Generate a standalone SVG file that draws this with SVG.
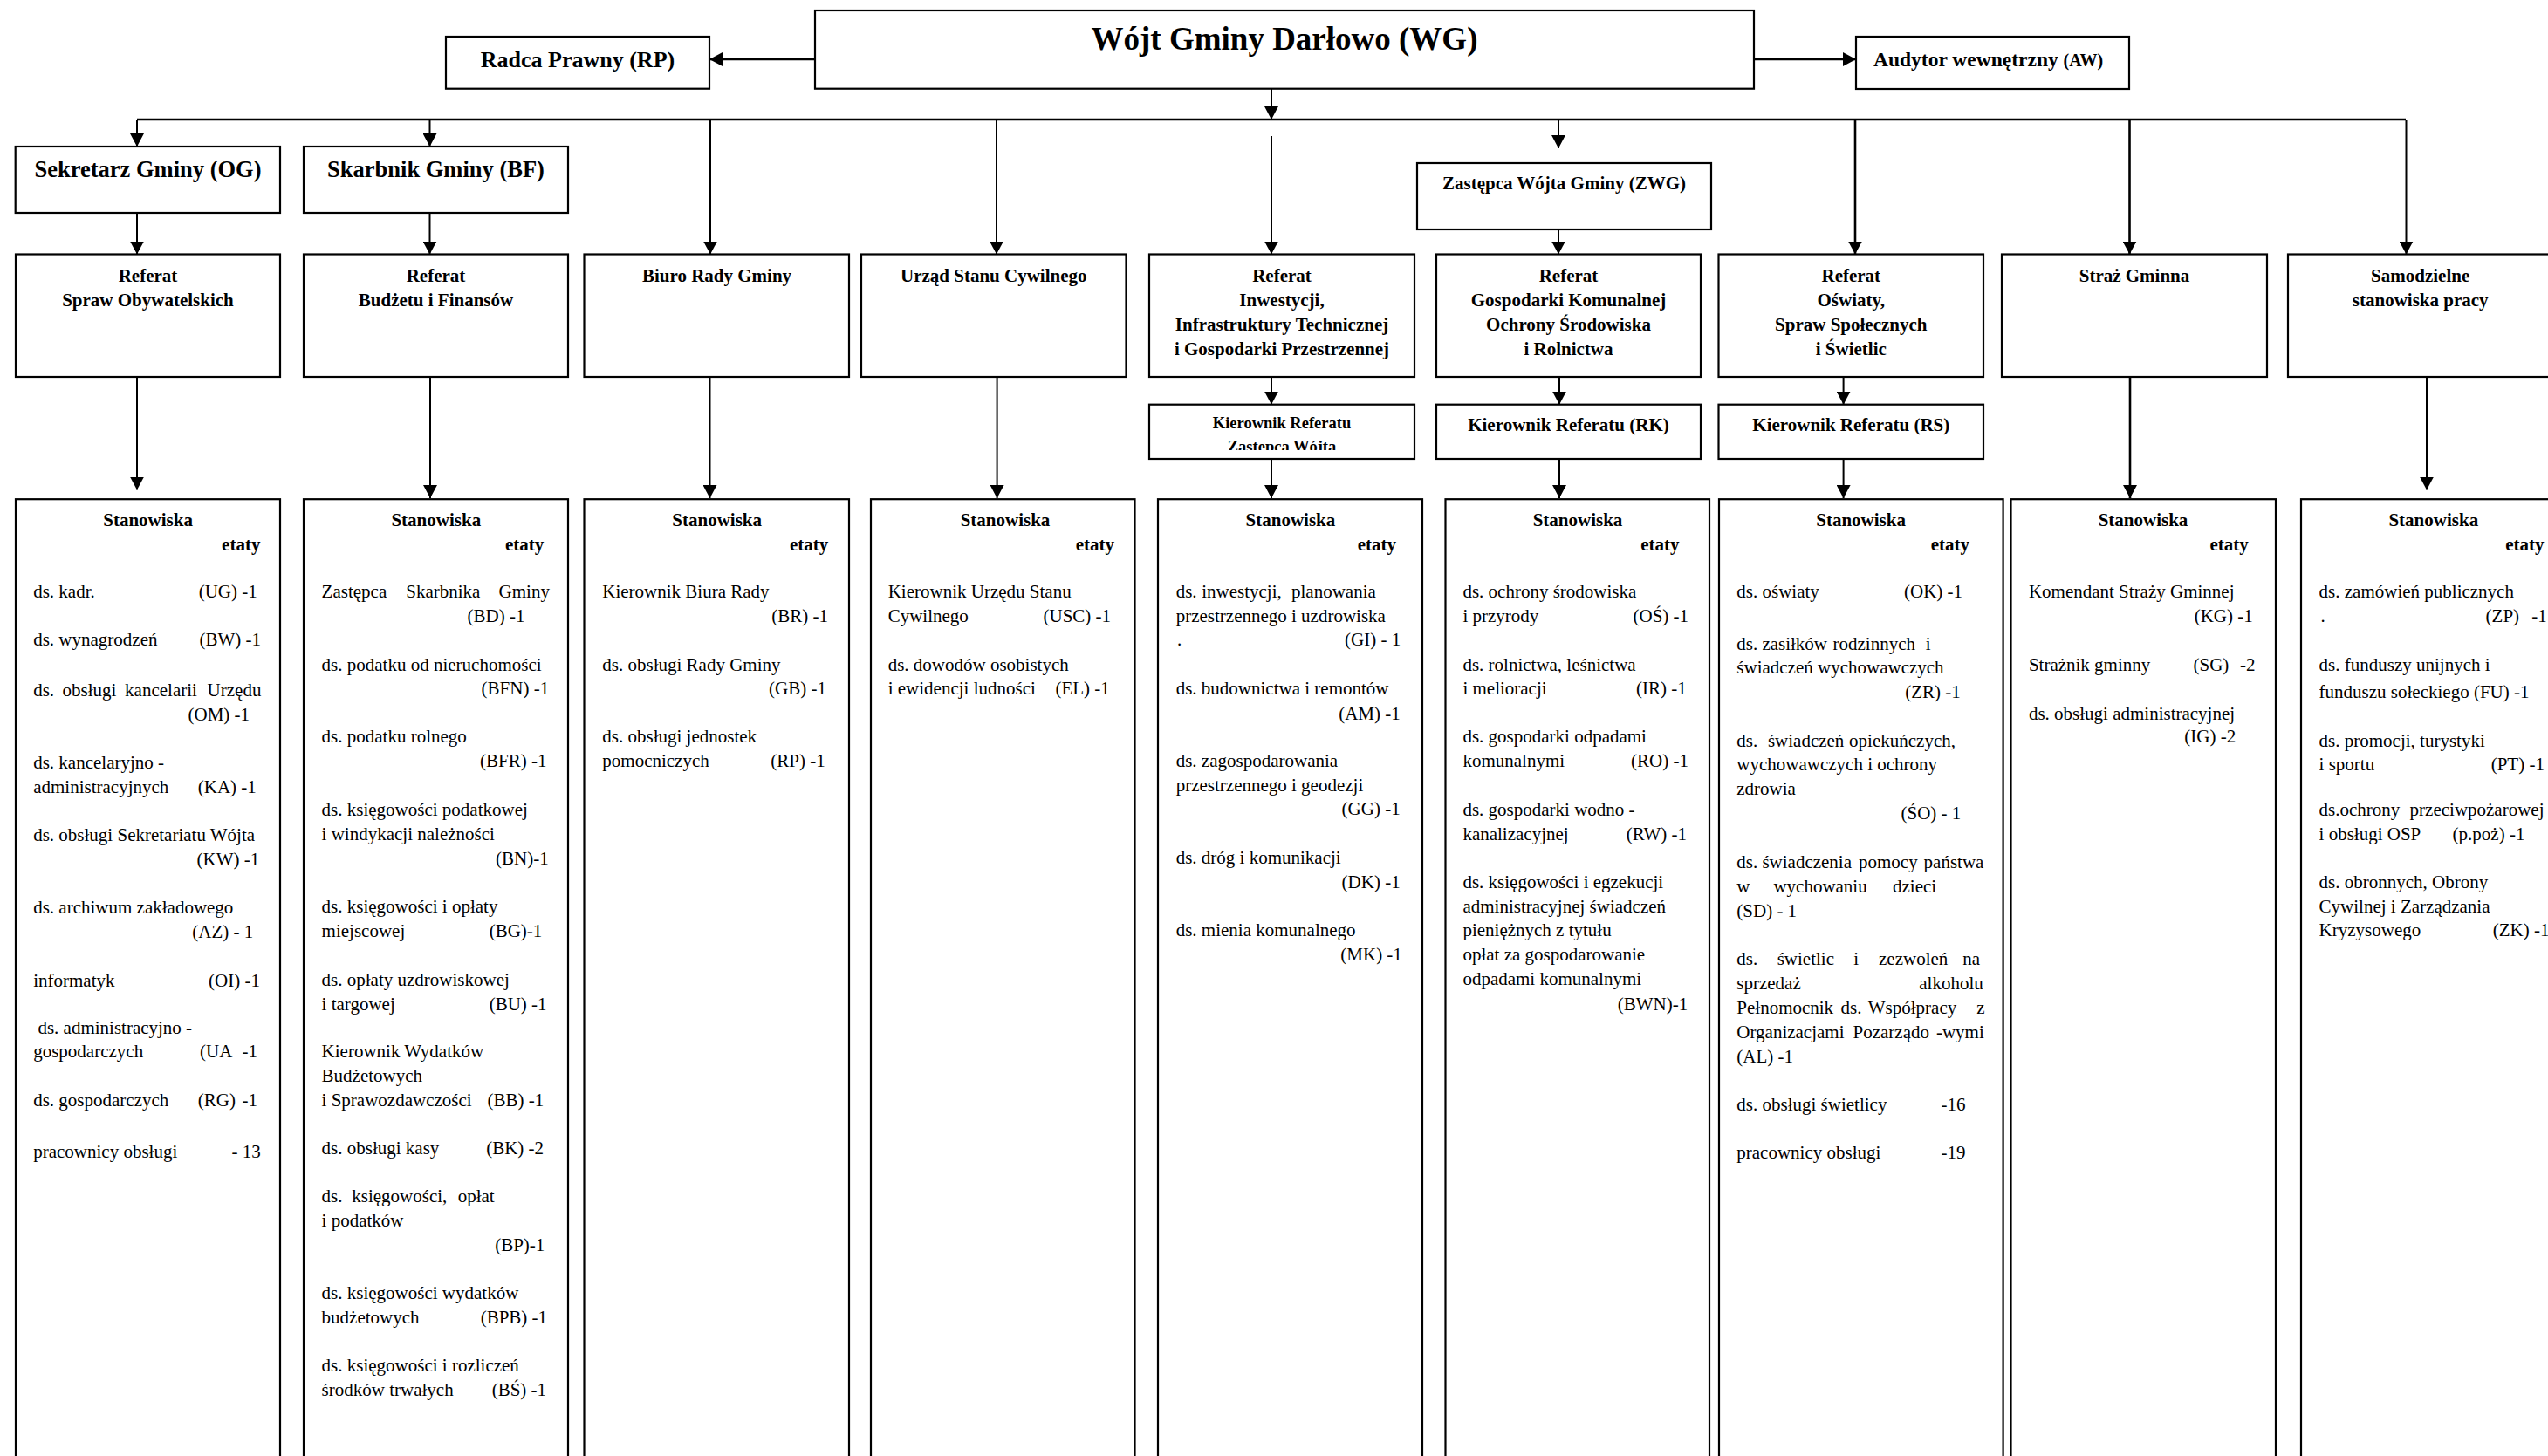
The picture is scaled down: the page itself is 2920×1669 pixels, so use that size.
<svg xmlns="http://www.w3.org/2000/svg" width="2920" height="1669" viewBox="0 0 2920 1669">
<defs>
<style>
text{font-family:"Liberation Serif","Times New Roman",serif;font-size:21px;fill:#000}
.b{font-weight:bold}
.c{text-anchor:middle}
.e{text-anchor:end}
.box{fill:#fff;stroke:#000;stroke-width:2.2}
.ln{fill:none;stroke:#000;stroke-width:2}
.lt{fill:none;stroke:#000;stroke-width:2.6}
</style>
<marker id="ar" markerUnits="userSpaceOnUse" markerWidth="15" markerHeight="16" refX="15" refY="8" orient="auto">
<path d="M0,0 L15,8 L0,16 z" fill="#000"/>
</marker>
<clipPath id="clipK"><rect x="1317" y="463" width="304" height="53"/></clipPath>
</defs>
<rect width="2920" height="1669" fill="#fff"/>

<g id="connectors">
<path class="lt" d="M934,68 H813" marker-end="url(#ar)"/>
<path class="lt" d="M2010,68 H2127" marker-end="url(#ar)"/>
<path class="ln" d="M1457,102 V137" marker-end="url(#ar)"/>
<path class="lt" d="M157,137 H2757"/>
<path class="ln" d="M157,137 V168" marker-end="url(#ar)"/>
<path class="ln" d="M492.5,137 V168" marker-end="url(#ar)"/>
<path class="ln" d="M814,137 V291.5" marker-end="url(#ar)"/>
<path class="ln" d="M1142,137 V291.5" marker-end="url(#ar)"/>
<path class="ln" d="M1457,156 V291.5" marker-end="url(#ar)"/>
<path class="ln" d="M1786,137 V170" marker-end="url(#ar)"/>
<path class="ln" d="M1786,244 V291.5" marker-end="url(#ar)"/>
<path class="lt" d="M2126,137 V291.5" marker-end="url(#ar)"/>
<path class="lt" d="M2440.5,137 V291.5" marker-end="url(#ar)"/>
<path class="ln" d="M2757.5,137 V291.5" marker-end="url(#ar)"/>
<path class="ln" d="M157,244 V291.5" marker-end="url(#ar)"/>
<path class="ln" d="M492.5,244 V291.5" marker-end="url(#ar)"/>
<path class="ln" d="M157,432 V561.6" marker-end="url(#ar)"/>
<path class="ln" d="M493,432 V571" marker-end="url(#ar)"/>
<path class="ln" d="M813.5,432 V571" marker-end="url(#ar)"/>
<path class="ln" d="M1142.6,432 V571" marker-end="url(#ar)"/>
<path class="ln" d="M1457,432 V463.7" marker-end="url(#ar)"/>
<path class="ln" d="M1787,432 V463.7" marker-end="url(#ar)"/>
<path class="ln" d="M2112.6,432 V463.7" marker-end="url(#ar)"/>
<path class="ln" d="M1457,526 V571" marker-end="url(#ar)"/>
<path class="ln" d="M1787,526 V571" marker-end="url(#ar)"/>
<path class="ln" d="M2112.6,526 V571" marker-end="url(#ar)"/>
<path class="lt" d="M2441,432 V571" marker-end="url(#ar)"/>
<path class="ln" d="M2781,432 V561.6" marker-end="url(#ar)"/>
</g>

<g id="wojt">
<rect class="box" x="934" y="12" width="1076" height="89.7"/>
<text class="b c" x="1472" y="57" style="font-size:37px">Wójt Gminy Darłowo (WG)</text>
</g>
<g id="radca">
<rect class="box" x="511" y="42" width="302" height="59.7"/>
<text class="b c" x="662" y="77" style="font-size:26px">Radca Prawny (RP)</text>
</g>
<g id="audytor">
<rect class="box" x="2127" y="42" width="313" height="60"/>
<text class="b" x="2147" y="76" style="font-size:23.5px">Audytor wewnętrzny <tspan style="font-size:20px">(AW)</tspan></text>
</g>
<g id="sekretarz">
<rect class="box" x="17.7" y="168" width="303.3" height="76"/>
<text class="b c" x="169.5" y="203" style="font-size:26.5px">Sekretarz Gminy (OG)</text>
</g>
<g id="skarbnik">
<rect class="box" x="348" y="168" width="303" height="76"/>
<text class="b c" x="499.5" y="203" style="font-size:26.5px">Skarbnik Gminy (BF)</text>
</g>
<g id="zastepca">
<rect class="box" x="1624" y="187" width="337" height="76"/>
<text class="b c" x="1792.5" y="217">Zastępca Wójta Gminy (ZWG)</text>
</g>

<g id="ref-so">
<rect class="box" x="18" y="291.5" width="303" height="140.5"/>
<text class="b c" x="169.5" y="323">Referat</text>
<text class="b c" x="169.5" y="351">Spraw Obywatelskich</text>
</g>
<g id="ref-bf">
<rect class="box" x="348" y="291.5" width="303" height="140.5"/>
<text class="b c" x="499.5" y="323">Referat</text>
<text class="b c" x="499.5" y="351">Budżetu i Finansów</text>
</g>
<g id="biuro-rady">
<rect class="box" x="669.5" y="291.5" width="303.5" height="140.5"/>
<text class="b c" x="821.5" y="323">Biuro Rady Gminy</text>
</g>
<g id="usc">
<rect class="box" x="987" y="291.5" width="303.5" height="140.5"/>
<text class="b c" x="1138.75" y="323">Urząd Stanu Cywilnego</text>
</g>
<g id="ref-inw">
<rect class="box" x="1317" y="291.5" width="304" height="140.5"/>
<text class="b c" x="1469" y="323">Referat</text>
<text class="b c" x="1469" y="351">Inwestycji,</text>
<text class="b c" x="1469" y="379">Infrastruktury Technicznej</text>
<text class="b c" x="1469" y="407">i Gospodarki Przestrzennej</text>
</g>
<g id="ref-gk">
<rect class="box" x="1646" y="291.5" width="303" height="140.5"/>
<text class="b c" x="1797.5" y="323">Referat</text>
<text class="b c" x="1797.5" y="351">Gospodarki Komunalnej</text>
<text class="b c" x="1797.5" y="379">Ochrony Środowiska</text>
<text class="b c" x="1797.5" y="407">i Rolnictwa</text>
</g>
<g id="ref-os">
<rect class="box" x="1969.5" y="291.5" width="303.5" height="140.5"/>
<text class="b c" x="2121.3" y="323">Referat</text>
<text class="b c" x="2121.3" y="351">Oświaty,</text>
<text class="b c" x="2121.3" y="379">Spraw Społecznych</text>
<text class="b c" x="2121.3" y="407">i Świetlic</text>
</g>
<g id="straz">
<rect class="box" x="2294" y="291.5" width="304" height="140.5"/>
<text class="b c" x="2446" y="323">Straż Gminna</text>
</g>
<g id="samodzielne">
<rect class="box" x="2622" y="291.5" width="303" height="140.5"/>
<text class="b c" x="2773.7" y="323">Samodzielne</text>
<text class="b c" x="2773.7" y="351">stanowiska pracy</text>
</g>

<g id="kier-inw">
<rect class="box" x="1317" y="463.7" width="304" height="62.3"/>
<text class="b c" x="1469" y="491.4" style="font-size:18.5px">Kierownik Referatu</text>
<text class="b c" x="1469" y="518.3" style="font-size:18.5px" clip-path="url(#clipK)">Zastępca Wójta</text>
</g>
<g id="kier-rk">
<rect class="box" x="1646" y="463.7" width="303" height="62.3"/>
<text class="b c" x="1797.5" y="494.3">Kierownik Referatu (RK)</text>
</g>
<g id="kier-rs">
<rect class="box" x="1969.5" y="463.7" width="303.5" height="62.3"/>
<text class="b c" x="2121.3" y="494.3">Kierownik Referatu (RS)</text>
</g>

<g id="stan-so">
<rect class="box" x="18" y="572.2" width="303" height="1130"/>
<text class="b c" x="169.6" y="603.3">Stanowiska</text>
<text class="b e" x="298.4" y="631">etaty</text>
<text x="38.2" y="685.3">ds. kadr.</text><text x="227.7" y="685.3">(UG) -1</text>
<text x="38.2" y="740">ds. wynagrodzeń</text><text x="228.5" y="740">(BW) -1</text>
<text x="38.2" y="797.6">ds.</text><text x="71.6" y="797.6">obsługi</text><text x="143.1" y="797.6">kancelarii</text><text x="237.6" y="797.6">Urzędu</text>
<text x="215.5" y="826">(OM) -1</text>
<text x="38.2" y="881.2">ds. kancelaryjno -</text>
<text x="38.2" y="908.6">administracyjnych</text><text x="226.8" y="908.6">(KA) -1</text>
<text x="38.2" y="963.8">ds. obsługi Sekretariatu Wójta</text>
<text x="225.5" y="991.7">(KW) -1</text>
<text x="38.2" y="1047">ds. archiwum zakładowego</text>
<text x="220.3" y="1075">(AZ) - 1</text>
<text x="38.2" y="1130.5">informatyk</text><text x="239" y="1130.5">(OI) -1</text>
<text x="43.4" y="1185.4">ds. administracyjno -</text>
<text x="38.2" y="1212.4">gospodarczych</text><text x="229" y="1212.4">(UA</text><text x="277.5" y="1212.4">-1</text>
<text x="38.2" y="1267.8">ds. gospodarczych</text><text x="226.8" y="1267.8">(RG)</text><text x="277.5" y="1267.8">-1</text>
<text x="38.2" y="1326.7">pracownicy obsługi</text><text x="265.4" y="1326.7">- 13</text>
</g>

<g id="stan-bf">
<rect class="box" x="348" y="572.2" width="303" height="1130"/>
<text class="b c" x="499.8" y="603.3">Stanowiska</text>
<text class="b e" x="623.2" y="631">etaty</text>
<text x="368.6" y="685.3">Zastępca</text><text x="465.3" y="685.3">Skarbnika</text><text x="571.6" y="685.3">Gminy</text>
<text x="535.6" y="712.7">(BD) -1</text>
<text x="368.6" y="768.6">ds. podatku od nieruchomości</text>
<text x="551.6" y="796.3">(BFN) -1</text>
<text x="368.6" y="851.4">ds. podatku rolnego</text>
<text x="550" y="879.2">(BFR) -1</text>
<text x="368.6" y="935.3">ds. księgowości podatkowej</text>
<text x="368.6" y="962.8">i windykacji należności</text>
<text x="568" y="991.2">(BN)-1</text>
<text x="368.6" y="1046.2">ds. księgowości i opłaty</text>
<text x="368.6" y="1074.1">miejscowej</text><text x="560.7" y="1074.1">(BG)-1</text>
<text x="368.6" y="1129.5">ds. opłaty uzdrowiskowej</text>
<text x="368.6" y="1157.5">i targowej</text><text x="560.7" y="1157.5">(BU) -1</text>
<text x="368.6" y="1212.4">Kierownik Wydatków</text>
<text x="368.6" y="1239.9">Budżetowych</text>
<text x="368.6" y="1267.8">i Sprawozdawczości</text><text x="558.5" y="1267.8">(BB) -1</text>
<text x="368.6" y="1322.8">ds. obsługi kasy</text><text x="557.2" y="1322.8">(BK) -2</text>
<text x="368.6" y="1378.2">ds.</text><text x="403.3" y="1378.2">księgowości,</text><text x="524.7" y="1378.2">opłat</text>
<text x="368.6" y="1406.1">i podatków</text>
<text x="567.2" y="1433.6">(BP)-1</text>
<text x="368.6" y="1488.5">ds. księgowości wydatków</text>
<text x="368.6" y="1516.5">budżetowych</text><text x="550.7" y="1516.5">(BPB) -1</text>
<text x="368.6" y="1571.9">ds. księgowości i rozliczeń</text>
<text x="368.6" y="1600.3">środków trwałych</text><text x="563.7" y="1600.3">(BŚ) -1</text>
</g>

<g id="stan-br">
<rect class="box" x="669.5" y="572.2" width="303.5" height="1130"/>
<text class="b c" x="821.7" y="603.3">Stanowiska</text>
<text class="b e" x="949.2" y="631">etaty</text>
<text x="690.3" y="685.3">Kierownik Biura Rady</text>
<text x="884.2" y="712.7">(BR) -1</text>
<text x="690.3" y="768.6">ds. obsługi Rady Gminy</text>
<text x="881.1" y="796.3">(GB) -1</text>
<text x="690.3" y="851.4">ds. obsługi jednostek</text>
<text x="690.3" y="879.2">pomocniczych</text><text x="883.3" y="879.2">(RP) -1</text>
</g>

<g id="stan-usc">
<rect class="box" x="998" y="572.2" width="302.5" height="1130"/>
<text class="b c" x="1152" y="603.3">Stanowiska</text>
<text class="b e" x="1277" y="631">etaty</text>
<text x="1017.7" y="685.3">Kierownik Urzędu Stanu</text>
<text x="1017.7" y="712.7">Cywilnego</text><text x="1195.5" y="712.7">(USC) -1</text>
<text x="1017.7" y="768.6">ds. dowodów osobistych</text>
<text x="1017.7" y="796.3">i ewidencji ludności</text><text x="1209.4" y="796.3">(EL) -1</text>
</g>

<g id="stan-inw">
<rect class="box" x="1327" y="572.2" width="303" height="1130"/>
<text class="b c" x="1478.9" y="603.3">Stanowiska</text>
<text class="b e" x="1600" y="631">etaty</text>
<text x="1347.7" y="685.3">ds.</text><text x="1377.2" y="685.3">inwestycji,</text><text x="1480" y="685.3">planowania</text>
<text x="1347.7" y="712.7">przestrzennego i uzdrowiska</text>
<text x="1349" y="740.4">.</text><text x="1541" y="740.4">(GI) - 1</text>
<text x="1347.7" y="796.3">ds. budownictwa i remontów</text>
<text x="1534.2" y="824.9">(AM) -1</text>
<text x="1347.7" y="879.2">ds. zagospodarowania</text>
<text x="1347.7" y="907">przestrzennego i geodezji</text>
<text x="1537.6" y="934.3">(GG) -1</text>
<text x="1347.7" y="989.7">ds. dróg i komunikacji</text>
<text x="1537.6" y="1017.7">(DK) -1</text>
<text x="1347.7" y="1072.6">ds. mienia komunalnego</text>
<text x="1536.3" y="1101.1">(MK) -1</text>
</g>

<g id="stan-gk">
<rect class="box" x="1656.5" y="572.2" width="302.5" height="1130"/>
<text class="b c" x="1808" y="603.3">Stanowiska</text>
<text class="b e" x="1924.5" y="631">etaty</text>
<text x="1676.4" y="685.3">ds. ochrony środowiska</text>
<text x="1676.4" y="712.7">i przyrody</text><text x="1871.5" y="712.7">(OŚ) -1</text>
<text x="1676.4" y="768.6">ds. rolnictwa, leśnictwa</text>
<text x="1676.4" y="796.3">i melioracji</text><text x="1875" y="796.3">(IR) -1</text>
<text x="1676.4" y="851.4">ds. gospodarki odpadami</text>
<text x="1676.4" y="879.2">komunalnymi</text><text x="1869" y="879.2">(RO) -1</text>
<text x="1676.4" y="935.3">ds. gospodarki wodno -</text>
<text x="1676.4" y="962.8">kanalizacyjnej</text><text x="1863.7" y="962.8">(RW) -1</text>
<text x="1676.4" y="1017.7">ds. księgowości i egzekucji</text>
<text x="1676.4" y="1045.7">administracyjnej świadczeń</text>
<text x="1676.4" y="1073.1">pieniężnych z tytułu</text>
<text x="1676.4" y="1101.1">opłat za gospodarowanie</text>
<text x="1676.4" y="1129">odpadami komunalnymi</text>
<text x="1853.8" y="1157.5">(BWN)-1</text>
</g>

<g id="stan-os">
<rect class="box" x="1970" y="572.2" width="325.6" height="1130"/>
<text class="b c" x="2132.6" y="603.3">Stanowiska</text>
<text class="b e" x="2257" y="631">etaty</text>
<text x="1990.3" y="685.3">ds. oświaty</text><text x="2182" y="685.3">(OK) -1</text>
<text x="1990.3" y="745.3">ds.</text><text x="2019.4" y="745.3">zasiłków</text><text x="2100.5" y="745.3">rodzinnych</text><text x="2206.7" y="745.3">i</text>
<text x="1990.3" y="771.8">świadczeń wychowawczych</text>
<text x="2183.3" y="800.4">(ZR) -1</text>
<text x="1990.3" y="855.5">ds.</text><text x="2025.9" y="855.5">świadczeń</text><text x="2119.1" y="855.5">opiekuńczych,</text>
<text x="1990.3" y="883.3">wychowawczych i ochrony</text>
<text x="1990.3" y="910.6">zdrowia</text>
<text x="2178.5" y="939.2">(ŚO) - 1</text>
<text x="1990.3" y="994.7">ds.</text><text x="2019.4" y="994.7">świadczenia</text><text x="2130" y="994.7">pomocy</text><text x="2204.6" y="994.7">państwa</text>
<text x="1990.3" y="1022.6">w</text><text x="2032.4" y="1022.6">wychowaniu</text><text x="2169" y="1022.6">dzieci</text>
<text x="1990.3" y="1050.6">(SD) - 1</text>
<text x="1990.3" y="1106">ds.</text><text x="2036.7" y="1106">świetlic</text><text x="2124.3" y="1106">i</text><text x="2153" y="1106">zezwoleń</text><text x="2249.2" y="1106">na</text>
<text x="1990.3" y="1133.9">sprzedaż</text><text x="2199.3" y="1133.9">alkoholu</text>
<text x="1990.3" y="1162.4">Pełnomocnik</text><text x="2109.6" y="1162.4">ds.</text><text x="2140.8" y="1162.4">Współpracy</text><text x="2265.3" y="1162.4">z</text>
<text x="1990.3" y="1190.3">Organizacjami</text><text x="2123.5" y="1190.3">Pozarządo</text><text x="2218.9" y="1190.3">-wymi</text>
<text x="1990.3" y="1217.8">(AL) -1</text>
<text x="1990.3" y="1272.7">ds. obsługi świetlicy</text><text x="2224.5" y="1272.7">-16</text>
<text x="1990.3" y="1327.7">pracownicy obsługi</text><text x="2224.5" y="1327.7">-19</text>
</g>

<g id="stan-straz">
<rect class="box" x="2304.5" y="572.2" width="303.5" height="1130"/>
<text class="b c" x="2456" y="603.3">Stanowiska</text>
<text class="b e" x="2576.7" y="631">etaty</text>
<text x="2324.9" y="685.3">Komendant Straży Gminnej</text>
<text x="2514.7" y="712.7">(KG) -1</text>
<text x="2324.9" y="768.6">Strażnik gminny</text><text x="2513.5" y="768.6">(SG)</text><text x="2566.9" y="768.6">-2</text>
<text x="2324.9" y="824.9">ds. obsługi administracyjnej</text>
<text x="2503.3" y="851.4">(IG) -2</text>
</g>

<g id="stan-samodzielne">
<rect class="box" x="2637" y="572.2" width="303" height="1130"/>
<text class="b c" x="2788.8" y="603.3">Stanowiska</text>
<text class="b e" x="2915.5" y="631">etaty</text>
<text x="2657.6" y="685.3">ds. zamówień publicznych</text>
<text x="2659.6" y="712.7">.</text><text x="2848.6" y="712.7">(ZP)</text><text x="2901.2" y="712.7">-1</text>
<text x="2657.6" y="768.6">ds. funduszy unijnych i</text>
<text x="2657.6" y="800.4">funduszu sołeckiego (FU) -1</text>
<text x="2657.6" y="855.5">ds. promocji, turystyki</text>
<text x="2657.6" y="883.3">i sportu</text><text x="2854.7" y="883.3">(PT) -1</text>
<text x="2657.6" y="935.3">ds.ochrony</text><text x="2761.6" y="935.3">przeciwpożarowej</text>
<text x="2657.6" y="962.8">i obsługi OSP</text><text x="2810.6" y="962.8">(p.poż) -1</text>
<text x="2657.6" y="1017.7">ds. obronnych, Obrony</text>
<text x="2657.6" y="1045.7">Cywilnej i Zarządzania</text>
<text x="2657.6" y="1073.1">Kryzysowego</text><text x="2856.7" y="1073.1">(ZK) -1</text>
</g>
</svg>
